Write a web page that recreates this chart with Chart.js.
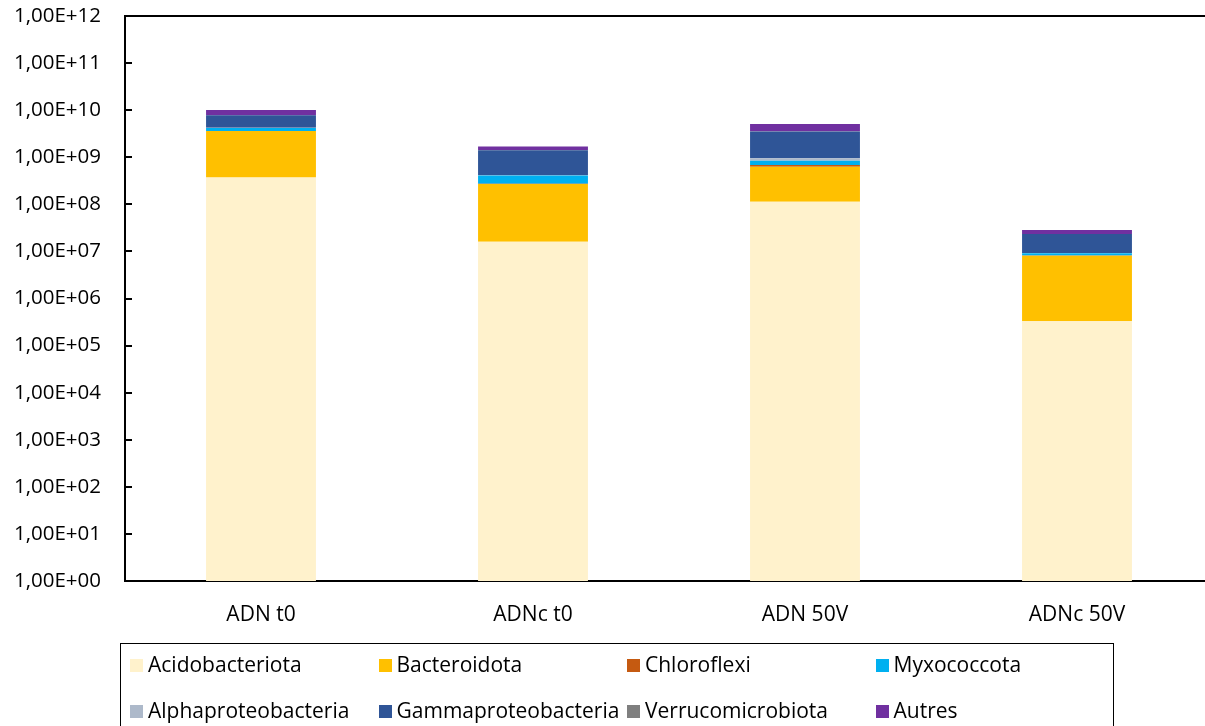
<!DOCTYPE html>
<html>
<head>
<meta charset="utf-8">
<script src="https://cdn.jsdelivr.net/npm/chart.js@4"></script>
<style>
  html, body { margin: 0; padding: 0; background: #fff; overflow: hidden; }
  #wrap { position: relative; width: 1205px; height: 726px; overflow: hidden; }
  #chart { position: absolute; left: 0; top: 0; }
  #legend {
    position: absolute; left: 120px; top: 643px; width: 994px; height: 100px;
    border: 1.5px solid #000; box-sizing: border-box;
    display: grid; grid-template-columns: repeat(4, 248.5px); grid-auto-rows: 46px;
    padding: 0 0 0 9px;
    font-family: "Open Sans", sans-serif; font-size: 21px; color: #000;
  }
  #legend .item { display: flex; align-items: center; white-space: nowrap; position: relative; top: -3px; }
  #legend .sw { width: 13px; height: 13px; margin-right: 5px; flex: none; position: relative; top: 1px; }
</style>
</head>
<body>
<div id="wrap">
  <canvas id="chart" width="1213" height="726"></canvas>
  <div id="legend"></div>
</div>
<script>
// catégories
const categories = ["ADN t0", "ADNc t0", "ADN 50V", "ADNc 50V"];

// séries
const acidobacteriota = [3.7e8, 1.6e7, 1.14e8, 3.3e5];
const bacteroidota = [3.24e9, 2.55e8, 5.17e8, 7.8e6];
const chloroflexi = [2e7, 2e6, 5.4e7, 5e4];
const myxococcota = [5.6e8, 1.37e8, 1.6e8, 1.0e6];
const alphaproteobacteria = [4e7, 5e6, 1.05e8, 1e5];
const gammaproteobacteria = [3.55e9, 1.0e9, 2.58e9, 1.42e7];
const verrucomicrobiota = [3e7, 5e6, 3e7, 1e5];
const autres = [2.3e9, 2.7e8, 1.53e9, 5.0e6];

// axe y
const tickValues = [1, 1e1, 1e2, 1e3, 1e4, 1e5, 1e6, 1e7, 1e8, 1e9, 1e10, 1e11, 1e12];
const tickLabels = ["1,00E+00", "1,00E+01", "1,00E+02", "1,00E+03", "1,00E+04", "1,00E+05", "1,00E+06",
  "1,00E+07", "1,00E+08", "1,00E+09", "1,00E+10", "1,00E+11", "1,00E+12"];

const series = [
  { label: "Acidobacteriota", data: acidobacteriota, color: "#FFF2CC" },
  { label: "Bacteroidota", data: bacteroidota, color: "#FFC000" },
  { label: "Chloroflexi", data: chloroflexi, color: "#C55A11" },
  { label: "Myxococcota", data: myxococcota, color: "#00B0F0" },
  { label: "Alphaproteobacteria", data: alphaproteobacteria, color: "#ADB9CA" },
  { label: "Gammaproteobacteria", data: gammaproteobacteria, color: "#2F5597" },
  { label: "Verrucomicrobiota", data: verrucomicrobiota, color: "#7F7F7F" },
  { label: "Autres", data: autres, color: "#7030A0" },
];

const FONT = "'Open Sans', sans-serif";

// traits de graduation intérieurs + ligne du haut
const frameplugin = {
  id: "frame",
  afterDraw: (chart) => {
    const { ctx, chartArea: { left, top }, scales: { y } } = chart;
    ctx.save();
    ctx.strokeStyle = "#000";
    ctx.lineWidth = 2;
    ctx.beginPath();
    y.ticks.forEach((t) => {
      const py = Math.round(y.getPixelForValue(t.value));
      ctx.moveTo(left, py);
      ctx.lineTo(left + 7, py);
    });
    ctx.moveTo(left - 1, top);
    ctx.lineTo(chart.width, top);
    ctx.stroke();
    ctx.restore();
  },
};

const chart = new Chart(document.getElementById("chart"), {
  type: "bar",
  data: {
    labels: categories,
    datasets: series.map((s) => ({
      label: s.label,
      data: s.data,
      backgroundColor: s.color,
      borderWidth: 0,
      barPercentage: 0.404,
      categoryPercentage: 1,
    })),
  },
  options: {
    responsive: false,
    animation: false,
    layout: { padding: { top: 16, left: 0, right: 0, bottom: 0 } },
    plugins: {
      legend: { display: false },
      tooltip: { enabled: false },
    },
    scales: {
      x: {
        stacked: true,
        grid: { display: false },
        border: { color: "#000", width: 2 },
        ticks: { color: "#000", padding: 13, font: { family: FONT, size: 21 } },
        afterFit: (axis) => {
          axis.height = 726 - 581;
          axis.paddingLeft = 0;
          axis.paddingRight = 0;
        },
      },
      y: {
        type: "logarithmic",
        stacked: true,
        min: 1,
        max: 1e12,
        grid: { display: false, drawTicks: false },
        border: { color: "#000", width: 2 },
        afterBuildTicks: (axis) => { axis.ticks = tickValues.map((v) => ({ value: v })); },
        ticks: {
          color: "#000",
          padding: 24,
          font: { family: FONT, size: 20.5 },
          callback: (value) => {
            const i = tickValues.indexOf(value);
            return i >= 0 ? tickLabels[i] : "";
          },
        },
        afterFit: (axis) => {
          axis.width = 125;
          axis.paddingTop = 0;
          axis.paddingBottom = 0;
        },
      },
    },
  },
  plugins: [frameplugin],
});

// légende
const legendEl = document.getElementById("legend");
series.forEach((s) => {
  const item = document.createElement("div");
  item.className = "item";
  const sw = document.createElement("span");
  sw.className = "sw";
  sw.style.background = s.color;
  const tx = document.createElement("span");
  tx.textContent = s.label;
  item.appendChild(sw);
  item.appendChild(tx);
  legendEl.appendChild(item);
});
</script>
</body>
</html>
